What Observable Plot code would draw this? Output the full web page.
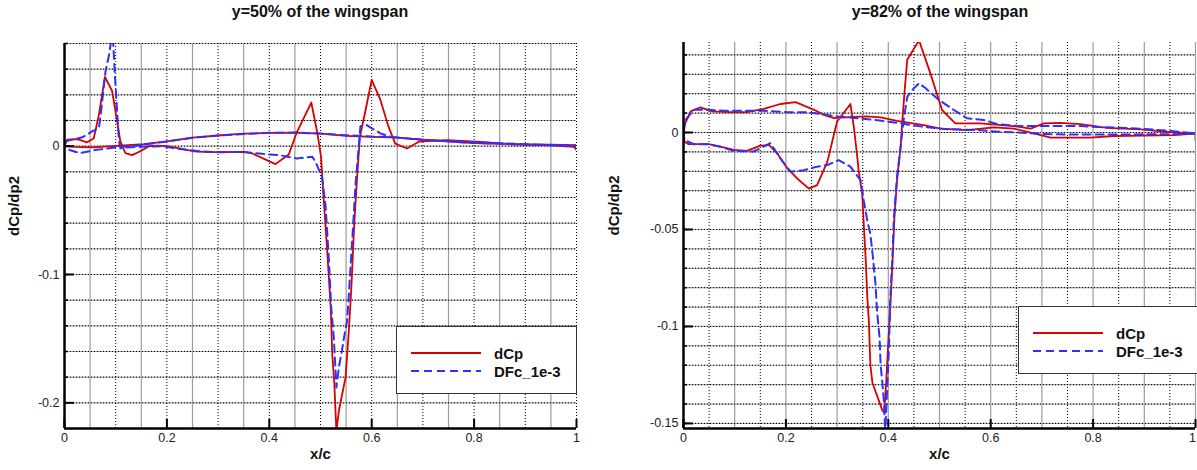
<!DOCTYPE html>
<html><head><meta charset="utf-8">
<script src="https://cdn.jsdelivr.net/npm/d3@7"></script>
<script src="https://cdn.jsdelivr.net/npm/@observablehq/plot@0.6"></script>
<style>
body{margin:0;background:#fff;font-family:"Liberation Sans",Arial,Helvetica,sans-serif;}
#wrap{position:relative;width:1197px;height:470px;overflow:hidden;background:#fff}
.panel{position:absolute;top:0}
.title{position:absolute;top:3px;font-weight:bold;font-size:16px;color:#111;transform:translateX(-50%);white-space:nowrap}
.legend{position:absolute;border:1.5px solid #333;background:#fff;box-sizing:border-box}
.legend svg{position:absolute;left:0;top:0}
.legend span{position:absolute;font-weight:bold;font-size:15px;color:#111;line-height:1}
</style>
</head><body>
<div id="wrap"></div>
<script>
// ---------- data ----------
const titles = ["y=50% of the wingspan", "y=82% of the wingspan"];
const seriesNames = ["dCp", "DFc_1e-3"];
const xTicks = [0, 0.2, 0.4, 0.6, 0.8, 1];
const xGrid = [0.05,0.1,0.15,0.2,0.25,0.3,0.35,0.4,0.45,0.5,0.55,0.6,0.65,0.7,0.75,0.8,0.85,0.9,0.95,1.0];

// panel 1 (y = 50%)
const p1YTicks = [-0.2, -0.1, 0];
const p1YGrid = [-0.2,-0.18,-0.16,-0.14,-0.12,-0.1,-0.08,-0.06,-0.04,-0.02,0,0.02,0.04,0.06,0.08];
const p1DcpX = [0,0.005,0.025,0.044,0.057,0.067,0.079,0.093,0.103,0.109,0.119,0.132,0.148,0.165,0.181,0.2,0.227,0.253,0.28,0.35,0.367,0.412,0.438,0.454,0.482,0.494,0.501,0.506,0.513,0.52,0.523,0.527,0.531,0.536,0.549,0.555,0.56,0.566,0.572,0.577,0.588,0.6,0.617,0.633,0.646,0.669,0.692,0.747,0.8125,0.878,0.943,0.995,1.0,
  1.0,0.95,0.9,0.8,0.7,0.65,0.6,0.55,0.5,0.45,0.4,0.35,0.3,0.25,0.2,0.155,0.1,0.057,0.02,0];
const p1DcpY = [0,0.005,0.0055,0.003,0.006,0.024,0.054,0.043,0.019,0.004,-0.0055,-0.007,-0.004,0,0.0005,0,-0.002,-0.004,-0.0047,-0.0045,-0.0057,-0.014,-0.0065,0.011,0.034,0.010,-0.008,-0.040,-0.081,-0.126,-0.162,-0.185,-0.222,-0.206,-0.180,-0.146,-0.1125,-0.060,-0.021,0.0073,0.028,0.0516,0.036,0.015,0.002,-0.0018,0.0035,0.0047,0.0034,0.0013,0.0008,-0.0005,-0.003,
  0.0008,0.0012,0.0014,0.0024,0.005,0.0066,0.0072,0.008,0.0098,0.0106,0.0104,0.0097,0.0083,0.0066,0.0037,0.0016,0.0003,-0.001,-0.0005,0];
const p1DfcX = [0,0.025,0.035,0.054,0.067,0.07,0.08,0.087,0.094,0.098,0.102,0.106,0.109,0.12,0.15,0.19,0.22,0.266,0.3,0.35,0.386,0.42,0.454,0.484,0.49,0.503,0.51,0.516,0.521,0.526,0.529,0.531,0.536,0.542,0.546,0.552,0.555,0.559,0.564,0.568,0.573,0.578,0.59,0.604,0.617,0.637,0.7,0.8,0.9,1.0,
  1.0,0.9,0.8,0.7,0.65,0.6,0.55,0.5,0.45,0.4,0.35,0.3,0.25,0.2,0.15,0.1,0.06,0.03,0.01,0];
const p1DfcY = [0.0037,0.006,0.0069,0.0115,0.014,0.022,0.058,0.071,0.090,0.058,0.032,0.006,-0.0016,-0.001,-0.0005,0,-0.002,-0.004,-0.0047,-0.0045,-0.006,-0.007,-0.0096,-0.0083,-0.012,-0.024,-0.047,-0.086,-0.126,-0.149,-0.172,-0.188,-0.172,-0.159,-0.149,-0.136,-0.118,-0.092,-0.060,-0.032,-0.0083,0.0155,0.0165,0.013,0.010,0.0073,0.005,0.003,0.0015,0,
  0.0005,0.0013,0.0025,0.005,0.0068,0.0075,0.0085,0.0098,0.0106,0.0104,0.0095,0.0083,0.0065,0.0037,0.001,-0.001,-0.003,-0.0055,-0.003,0];

// panel 2 (y = 82%)
const p2YTicks = [-0.15, -0.1, -0.05, 0];
const p2YGrid = [-0.15,-0.14,-0.13,-0.12,-0.11,-0.1,-0.09,-0.08,-0.07,-0.06,-0.05,-0.04,-0.03,-0.02,-0.01,0,0.01,0.02,0.03,0.04];
const p2DcpX = [0,0.002,0.014,0.033,0.056,0.092,0.124,0.157,0.189,0.219,0.255,0.274,0.294,0.333,0.358,0.385,0.417,0.469,0.502,0.554,0.606,0.645,0.684,0.717,0.795,0.84,0.958,1.0,1.0,
  1.0,0.958,0.893,0.827,0.775,0.736,0.704,0.678,0.645,0.58,0.531,0.521,0.505,0.482,0.46,0.437,0.432,0.427,0.424,0.417,0.412,0.408,0.403,0.399,0.396,0.392,0.388,0.369,0.365,0.362,0.359,0.356,0.352,0.349,0.342,0.339,0.333,0.326,0.3,0.281,0.261,0.245,0.222,0.203,0.183,0.167,0.15,0.124,0.098,0.072,0.049,0.027,0.01,0.002,0];
const p2DcpY = [0,0.0039,0.0109,0.013,0.0109,0.0105,0.0105,0.0122,0.0147,0.0157,0.0117,0.0091,0.0074,0.0081,0.0083,0.0078,0.006,0.0038,0.002,0.0012,0.0026,0.002,-0.0005,-0.0026,-0.0026,-0.0018,-0.0014,-0.0005,-0.004,
  -0.0005,0,0.0016,0.0024,0.0043,0.005,0.0047,0.002,0.0033,0.0047,0.0047,0.0073,0.0116,0.0306,0.0475,0.0375,0.0219,0.0046,-0.0075,-0.0247,-0.0437,-0.068,-0.094,-0.113,-0.128,-0.1445,-0.143,-0.129,-0.12,-0.097,-0.085,-0.066,-0.047,-0.0316,-0.0195,-0.0116,0.0022,0.0147,0.0057,-0.015,-0.0271,-0.0289,-0.0237,-0.0185,-0.0107,-0.0064,-0.0068,-0.0095,-0.009,-0.0073,-0.006,-0.006,-0.006,-0.0047,0];
const p2DfcX = [0,0.004,0.02,0.046,0.079,0.157,0.203,0.241,0.268,0.3,0.339,0.372,0.417,0.469,0.515,0.58,0.62,0.65,0.7,0.75,0.85,0.95,1.0,
  1.0,0.971,0.932,0.893,0.84,0.808,0.775,0.678,0.652,0.613,0.587,0.554,0.528,0.514,0.495,0.473,0.46,0.447,0.437,0.43,0.424,0.417,0.411,0.408,0.404,0.401,0.397,0.394,0.392,0.388,0.385,0.383,0.378,0.375,0.37,0.365,0.359,0.352,0.346,0.326,0.303,0.281,0.261,0.235,0.209,0.189,0.17,0.137,0.098,0.072,0.046,0.02,0.002,0];
const p2DfcY = [0,0.0065,0.0117,0.0117,0.0112,0.0112,0.0105,0.0105,0.0095,0.0083,0.0074,0.0065,0.005,0.0029,0.0017,0.0012,0.0003,0,-0.0008,-0.001,-0.001,-0.0009,-0.0005,
  -0.0005,0.0003,0.0012,0.0019,0.0026,0.0029,0.0033,0.0033,0.0033,0.0043,0.0064,0.0073,0.0116,0.0141,0.0176,0.0228,0.0254,0.022,0.0184,0.0064,-0.0075,-0.023,-0.0437,-0.0645,-0.085,-0.113,-0.137,-0.156,-0.1405,-0.128,-0.12,-0.106,-0.092,-0.0782,-0.0644,-0.0523,-0.0454,-0.035,-0.0247,-0.0176,-0.0142,-0.0168,-0.0176,-0.0194,-0.0202,-0.0133,-0.0055,-0.0098,-0.0095,-0.0073,-0.006,-0.006,-0.0038,0];

// ---------- styles ----------
const RED = "#d80000", BLUE = "#2f2fff";

function pts(xs, ys){ return xs.map((x,i)=>({x, y: ys[i]})); }

function panel(opts){
  const {width, height, ml, mr, mt, mb, yDomain, yTicks, yGrid, dcp, dfc, title, titleX, left, dotEven, legend, lastDx} = opts;
  const plotW = width - ml - mr, plotH = height - mt - mb;
  const ky = (yDomain[1]-yDomain[0]) / plotH, kx = 1 / plotW;
  const y0 = yDomain[0];
  const isMajorX = v => Math.abs(Math.round(v*10) - v*10) < 1e-6;
  const dotX = xGrid.filter(v => dotEven ? isMajorX(v) : !isMajorX(v));
  const grayX = xGrid.filter(v => dotEven ? !isMajorX(v) : isMajorX(v));
  const yGridIn = yGrid.filter(v => v > y0 + 1e-9);
  const xLabInner = xTicks.slice(0, -1);
  const xLabLast = xTicks.slice(-1);
  const chart = Plot.plot({
    width, height,
    marginLeft: ml, marginRight: mr, marginTop: mt, marginBottom: mb,
    style: {background: "#fff", fontFamily: '"Liberation Sans", Arial, sans-serif', overflow: "visible"},
    x: {domain: [0, 1]},
    y: {domain: yDomain},
    marks: [
      Plot.ruleX(grayX, {stroke: "#9c9c9c", strokeWidth: 1.2}),
      Plot.ruleY(yGridIn, {stroke: "#a8a8a8", strokeWidth: 1.2}),
      Plot.ruleX(dotX, {stroke: "#000", strokeWidth: 1, strokeDasharray: "1,2"}),
      Plot.ruleY(yGridIn, {stroke: "#000", strokeWidth: 1, strokeDasharray: "1,2"}),
      Plot.line(dcp, {x: "x", y: "y", stroke: RED, strokeWidth: 1.8, clip: true}),
      Plot.line(dfc, {x: "x", y: "y", stroke: BLUE, strokeWidth: 2, strokeDasharray: "8,5", clip: true}),
      // inward ticks
      Plot.ruleY(yGrid, {x1: 0, x2: 4*kx, stroke: "#000", strokeWidth: 1.5}),
      Plot.ruleY(yTicks, {x1: 0, x2: 10*kx, stroke: "#000", strokeWidth: 2}),
      Plot.ruleX(xTicks, {y1: y0, y2: y0 + 9*ky, stroke: "#000", strokeWidth: 2}),
      Plot.ruleX([0], {stroke: "#000", strokeWidth: 2.5}),
      Plot.ruleY([y0], {stroke: "#000", strokeWidth: 2.5}),
      Plot.axisX(xLabInner, {tickSize: 0, tickPadding: 5, fontSize: 12.5, label: null, tickFormat: d => String(d), fill: "#222"}),
      Plot.axisX(xLabLast, {tickSize: 0, tickPadding: 5, fontSize: 12.5, label: null, tickFormat: d => String(d), fill: "#222", dx: lastDx}),
      Plot.axisY(yTicks, {tickSize: 0, tickPadding: 5, fontSize: 12.5, label: null, tickFormat: d => String(d), fill: "#222"}),
      Plot.text(["x/c"], {frameAnchor: "bottom", dy: 30, fontWeight: "bold", fontSize: 15, fill: "#111"}),
      Plot.text(["dCp/dp2"], {frameAnchor: "left", dx: -(ml - 14), rotate: -90, fontWeight: "bold", fontSize: 15, fill: "#111"})
    ]
  });
  const div = document.createElement("div");
  div.className = "panel";
  div.style.left = left + "px";
  div.appendChild(chart);
  document.getElementById("wrap").appendChild(div);
  const t = document.createElement("div");
  t.className = "title"; t.textContent = title; t.style.left = titleX + "px";
  document.getElementById("wrap").appendChild(t);
  // legend
  const lg = document.createElement("div");
  lg.className = "legend";
  Object.assign(lg.style, {left: legend.x + "px", top: legend.y + "px", width: legend.w + "px", height: legend.h + "px"});
  const svg = d3.create("svg").attr("width", legend.w).attr("height", legend.h);
  svg.append("line").attr("x1", 14).attr("x2", 84).attr("y1", 26).attr("y2", 26).attr("stroke", RED).attr("stroke-width", 2);
  svg.append("line").attr("x1", 14).attr("x2", 84).attr("y1", 44).attr("y2", 44).attr("stroke", BLUE).attr("stroke-width", 2).attr("stroke-dasharray", "8,5");
  lg.appendChild(svg.node());
  seriesNames.forEach((n, i) => {
    const s = document.createElement("span");
    s.textContent = n; s.style.left = "97px"; s.style.top = (19 + 18*i) + "px";
    lg.appendChild(s);
  });
  document.getElementById("wrap").appendChild(lg);
}

panel({width: 600, height: 470, ml: 64, mr: 24, mt: 43, mb: 42,
  yDomain: [-0.22, 0.08], yTicks: p1YTicks, yGrid: p1YGrid,
  dcp: pts(p1DcpX, p1DcpY), dfc: pts(p1DfcX, p1DfcY),
  title: titles[0], titleX: 320, left: 0, dotEven: true, lastDx: 0,
  legend: {x: 396, y: 326, w: 181, h: 68}});
panel({width: 597, height: 470, ml: 83, mr: 2, mt: 42, mb: 42,
  yDomain: [-0.1526, 0.0464], yTicks: p2YTicks, yGrid: p2YGrid,
  dcp: pts(p2DcpX, p2DcpY), dfc: pts(p2DfcX, p2DfcY),
  title: titles[1], titleX: 940, left: 600, dotEven: false, lastDx: -3,
  legend: {x: 1018, y: 306, w: 186, h: 68}});
</script>
</body></html>
